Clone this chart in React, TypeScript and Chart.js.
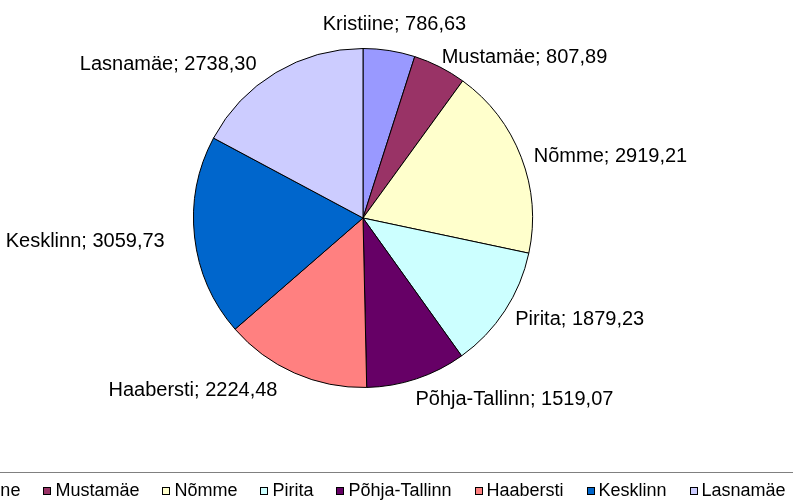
import React, { useEffect, useRef } from "react";
import { Chart, registerables } from "chart.js";

Chart.register(...registerables);

const districts = [
  "Kristiine",
  "Mustamäe",
  "Nõmme",
  "Pirita",
  "Põhja-Tallinn",
  "Haabersti",
  "Kesklinn",
  "Lasnamäe",
];
const values = [786.63, 807.89, 2919.21, 1879.23, 1519.07, 2224.48, 3059.73, 2738.3];
const sliceColors = [
  "#9999FF",
  "#993366",
  "#FFFFCC",
  "#CCFFFF",
  "#660066",
  "#FF8080",
  "#0066CC",
  "#CCCCFF",
];

const FONT = '"Liberation Sans", Arial, sans-serif';

const fmt = (v: number) => v.toFixed(2).replace(".", ",");

const labelPlugin = {
  id: "outsideLabels",
  afterDatasetsDraw(chart: any) {
    const ctx = chart.ctx;
    const meta = chart.getDatasetMeta(0);
    const labels = chart.data.labels as string[];
    const data = chart.data.datasets[0].data as number[];
    ctx.save();
    ctx.font = `20px ${FONT}`;
    ctx.fillStyle = "#000";
    ctx.textAlign = "center";
    ctx.textBaseline = "middle";
    const h = 18;
    meta.data.forEach((arc: any, i: number) => {
      const { x, y, startAngle, endAngle, outerRadius } = arc.getProps(
        ["x", "y", "startAngle", "endAngle", "outerRadius"],
        true
      );
      const mid = (startAngle + endAngle) / 2;
      const dx = Math.cos(mid);
      const dy = Math.sin(mid);
      const text = `${labels[i]}; ${fmt(data[i])}`;
      const w = ctx.measureText(text).width;
      const f = Math.sign(dx) * Math.min(1, Math.max(0, (Math.abs(dx) - 0.15) / 0.15));
      const px = x - 8 * Math.abs(f) + (outerRadius + 22) * dx;
      const vertShift = -6 * dy + 36 * dy * Math.pow(1 - Math.abs(dx), 4) + 2;
      const py = y + 1 + (outerRadius + 8) * dy + vertShift;
      const cx = px + (f * w) / 2;
      const cy = py + (dy * h) / 2;
      ctx.fillText(text, cx, cy);
    });
    ctx.restore();
  },
};

const legendPlugin = {
  id: "bottomLegend",
  afterDraw(chart: any) {
    const ctx = chart.ctx;
    const labels = chart.data.labels as string[];
    const colors = chart.data.datasets[0].backgroundColor as string[];
    const area = chart.chartArea;
    ctx.save();
    ctx.font = `18px ${FONT}`;
    const box = 8;
    const boxGap = 4;
    const itemGap = 23;
    const widths = labels.map((l) => ctx.measureText(l).width);
    const total =
      widths.reduce((a, b) => a + b, 0) + labels.length * (box + boxGap) + (labels.length - 1) * itemGap;
    const centerX = (area.left + area.right) / 2 + 2;
    let x = centerX - total / 2;
    const top = 472;
    const cy = 490.5;
    // legend frame
    ctx.strokeStyle = "#808080";
    ctx.lineWidth = 1;
    ctx.strokeRect(Math.round(x - 12) + 0.5, top + 0.5, Math.round(total + 24), 60);
    ctx.textBaseline = "middle";
    ctx.textAlign = "left";
    labels.forEach((l, i) => {
      ctx.fillStyle = colors[i];
      ctx.fillRect(Math.round(x), Math.round(cy - box / 2), box, box);
      ctx.strokeStyle = "#000";
      ctx.strokeRect(Math.round(x) + 0.5, Math.round(cy - box / 2) + 0.5, box - 1, box - 1);
      ctx.fillStyle = "#000";
      ctx.fillText(l, x + box + boxGap, cy + 1);
      x += box + boxGap + widths[i] + itemGap;
    });
    ctx.restore();
  },
};

export default function App() {
  const canvasRef = useRef<HTMLCanvasElement | null>(null);

  useEffect(() => {
    if (!canvasRef.current) return;
    const chart = new Chart(canvasRef.current, {
      type: "pie",
      data: {
        labels: districts,
        datasets: [
          {
            data: values,
            backgroundColor: sliceColors,
            borderColor: "#000000",
            borderWidth: 1,
          },
        ],
      },
      options: {
        animation: false,
        responsive: false,
        maintainAspectRatio: false,
        devicePixelRatio: 1,
        layout: { padding: { top: 48, bottom: 114, left: 193, right: 260 } },
        plugins: {
          legend: { display: false },
          tooltip: { enabled: false },
        },
      },
      plugins: [labelPlugin, legendPlugin],
    });
    return () => chart.destroy();
  }, []);

  return (
    <div style={{ position: "fixed", left: 0, top: 0, width: 793, height: 502, background: "#fff" }}>
      <canvas ref={canvasRef} width={793} height={502} style={{ width: 793, height: 502, display: "block" }} />
    </div>
  );
}
